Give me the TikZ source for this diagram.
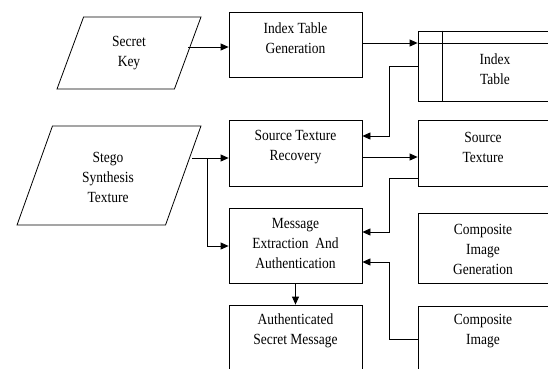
\documentclass[tikz,border=0pt]{standalone}
\usepackage{fontspec}
\setmainfont[FakeStretch=0.87]{Liberation Serif}
\usetikzlibrary{arrows.meta,shapes.geometric}

\tikzset{
  box/.style={draw, line width=0.8pt, minimum width=133, inner sep=0},
  slantbox/.style={draw, line width=0.8pt, trapezium, trapezium stretches=true, inner sep=2pt},
  txt/.style={align=center, font=\fontsize{15.5}{20}\selectfont, inner sep=0},
  arr/.style={line width=0.8pt, -{Triangle[length=8pt,width=7pt]}},
  wire/.style={line width=0.8pt},
}

\begin{document}
\begin{tikzpicture}[x=1pt,y=1pt,yscale=-1]
        \clip (0,0) rectangle (548,368);
        % inputs
        \node [slantbox, trapezium left angle=73.7, trapezium right angle=106.3, minimum width=144, minimum height=72] (key) at (129,53) {};
        \node [slantbox, trapezium left angle=72.6, trapezium right angle=107.4, minimum width=184, minimum height=99] (stego) at (109,175.5) {};
        % middle column
        \node [box, minimum height=65] (gen) at (295.5,44.5) {};
        \node [box, minimum height=66] (rec) at (295.5,153) {};
        \node [box, minimum height=75] (msg) at (295.5,245.5) {};
        \node [box, minimum height=75] (auth) at (295.5,342.5) {};
        % right column
        \node [box, minimum width=132, minimum height=70] (itab) at (484,66) {};
        \node [box, minimum width=132, minimum height=66] (src) at (484,153) {};
        \node [box, minimum width=132, minimum height=70] (cgen) at (484,248) {};
        \node [box, minimum width=132, minimum height=74] (cimg) at (484,343) {};
        \draw [wire] ([xshift=25]itab.north west) -- ([xshift=25]itab.south west);
        \draw [wire] (itab.west |- 0,43) -- (itab.east |- 0,43);
        % texts
        \node [txt] (keytxt) at (129,53) {Secret\\Key};
        \node [txt] (stegotxt) at (108,177) {Stego\\Synthesis\\Texture};
        \node [txt] (gentxt) at (295.5,38.5) {Index Table\\Generation};
        \node [txt] (rectxt) at (295.5,147.5) {Source Texture\\Recovery};
        \node [txt] (msgtxt) at (295.5,243) {Message\\Extraction~ And\\Authentication};
        \node [txt] (authtxt) at (295.5,331) {Authenticated\\Secret Message};
        \node [txt] (itabtxt) at (495,69) {Index\\Table};
        \node [txt] (srctxt) at (483,147.5) {Source\\Texture};
        \node [txt] (cgentxt) at (483,249) {Composite\\Image\\Generation};
        \node [txt] (cimgtxt) at (483,331) {Composite\\Image};
        % connectors
        \coordinate (stegoout) at (192,158);
        \coordinate (split) at (207,158);
        \draw [arr] (key.east |- 0,47) -- (gen.west |- 0,47);
        \draw [arr] (gen.east |- 0,43) -- (itab.west |- 0,43);
        \draw [arr] (itab.west) -| (389,136) -- (rec.east |- 0,136);
        \draw [arr] (stegoout) -- (rec.west |- stegoout);
        \draw [arr] (split) |- (msg.west |- 0,246);
        \draw [arr] (rec.east |- 0,157) -- (src.west |- 0,157);
        \draw [arr] (src.west |- 0,178) -| (389,232) -- (msg.east |- 0,232);
        \draw [arr] (cimg.west |- 0,339) -| (389,262) -- (msg.east |- 0,262);
        \draw [arr] (msg.south) -- (auth.north);
\end{tikzpicture}
\end{document}
